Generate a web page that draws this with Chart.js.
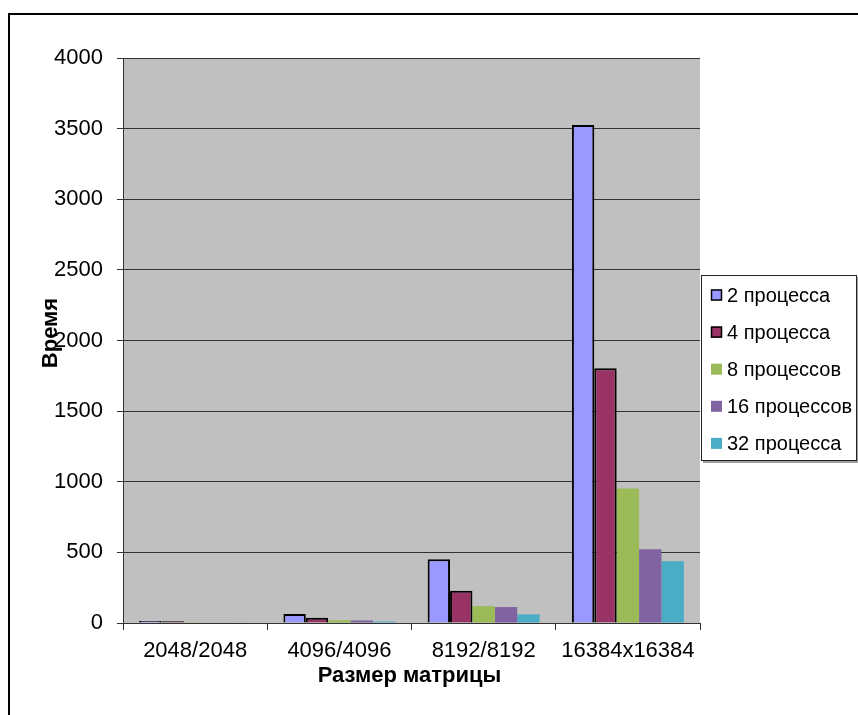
<!DOCTYPE html>
<html>
<head>
<meta charset="utf-8">
<script src="https://cdn.jsdelivr.net/npm/chart.js@4/dist/chart.umd.min.js"></script>
<style>
  html, body { margin: 0; padding: 0; background: #ffffff; }
  #wrap { width: 858px; height: 715px; }
</style>
</head>
<body>
<div id="wrap"><canvas id="c" width="858" height="715"></canvas></div>
<script>
// Matrix sizes along the x axis
const categories = ['2048/2048', '4096/4096', '8192/8192', '16384x16384'];

// Run time for each process count
const proc2  = [15, 64, 451, 3526];
const proc4  = [12, 38, 229, 1803];
const proc8  = [5, 20, 120, 953];
const proc16 = [4, 18, 113, 522];
const proc32 = [3, 10, 61, 437];

const seriesNames = ['2 процесса', '4 процесса', '8 процессов', '16 процессов', '32 процесса'];
const yTicks = [0, 500, 1000, 1500, 2000, 2500, 3000, 3500, 4000];

const xTitle = 'Размер матрицы';
const yTitle = 'Время';

const fills   = ['#9999FF', '#993366', '#9BBB59', '#8064A2', '#4BACC6'];
const borders = ['#000000', '#000000', '#9BBB59', '#8064A2', '#4BACC6'];
const bw      = [2, 2, 0, 0, 0];

const seriesData = [proc2, proc4, proc8, proc16, proc32];

const datasets = seriesData.map((d, i) => ({
  label: seriesNames[i],
  data: d,
  backgroundColor: fills[i],
  borderColor: borders[i],
  borderWidth: bw[i],
  borderSkipped: 'bottom',
  categoryPercentage: 0.776,
  barPercentage: 1.0
}));

const FONT = '"Liberation Sans", Arial, sans-serif';

// Grey plot background, outer frame, axis titles and legend box
const decor = {
  id: 'decor',
  beforeDraw(chart) {
    const { ctx, chartArea: a } = chart;
    ctx.save();
    ctx.fillStyle = '#C0C0C0';
    ctx.fillRect(a.left, a.top, a.right - a.left, a.bottom - a.top);
    ctx.restore();
  },
  afterDraw(chart) {
    const { ctx, chartArea: a } = chart;
    ctx.save();
    // outer frame
    ctx.strokeStyle = '#000000';
    ctx.lineWidth = 2;
    ctx.beginPath();
    ctx.moveTo(9, 715);
    ctx.lineTo(9, 14);
    ctx.lineTo(858, 14);
    ctx.stroke();

    // axis titles
    ctx.fillStyle = '#000000';
    ctx.font = 'bold 22px ' + FONT;
    ctx.textAlign = 'center';
    ctx.textBaseline = 'middle';
    ctx.fillText(xTitle, (a.left + a.right) / 2 - 2, 676);
    ctx.save();
    ctx.translate(51, 333);
    ctx.rotate(-Math.PI / 2);
    ctx.fillText(yTitle, 0, 0);
    ctx.restore();

    // legend
    const lx = 701, ly = 275, lw = 156, lh = 186;
    ctx.fillStyle = '#A0A0A0';
    ctx.fillRect(lx + 2, ly + 2, lw, lh);
    ctx.fillStyle = '#FFFFFF';
    ctx.fillRect(lx, ly, lw, lh);
    ctx.strokeStyle = '#222222';
    ctx.lineWidth = 1;
    ctx.strokeRect(lx + 0.5, ly + 0.5, lw - 1, lh - 1);
    ctx.font = '20px ' + FONT;
    ctx.textAlign = 'left';
    ctx.textBaseline = 'middle';
    chart.data.datasets.forEach((ds, i) => {
      const cy = 295 + i * 37.1;
      ctx.fillStyle = ds.backgroundColor;
      ctx.fillRect(711, cy - 5.5, 11, 11);
      if (ds.borderWidth > 0) {
        ctx.strokeStyle = '#000000';
        ctx.lineWidth = 1.5;
        ctx.strokeRect(711.5, cy - 5, 10, 10);
      }
      ctx.fillStyle = '#000000';
      ctx.fillText(ds.label, 727, cy + 1);
    });
    ctx.restore();
  }
};

new Chart(document.getElementById('c'), {
  type: 'bar',
  data: { labels: categories, datasets },
  plugins: [decor],
  options: {
    responsive: false,
    animation: false,
    devicePixelRatio: 1,
    layout: { padding: { top: 58, right: 158, left: 0, bottom: 0 } },
    plugins: {
      legend: { display: false },
      tooltip: { enabled: false }
    },
    scales: {
      x: {
        offset: true,
        grid: {
          offset: true,
          drawOnChartArea: false,
          color: '#333333',
          tickLength: 7,
          tickColor: '#333333'
        },
        border: { color: '#333333', width: 1 },
        ticks: {
          color: '#000000',
          font: { family: FONT, size: 22 },
          padding: 8,
          maxRotation: 0
        },
        afterFit(scale) { scale.height = 92; }
      },
      y: {
        min: 0,
        max: 4000,
        afterBuildTicks(scale) { scale.ticks = yTicks.map(v => ({ value: v })); },
        grid: {
          color: '#333333',
          tickLength: 6,
          tickColor: '#333333'
        },
        border: { color: '#333333', width: 1 },
        ticks: {
          color: '#000000',
          font: { family: FONT, size: 22 },
          padding: 14,
          callback: v => String(v)
        },
        afterFit(scale) { scale.width = 123; }
      }
    }
  }
});
</script>
</body>
</html>
